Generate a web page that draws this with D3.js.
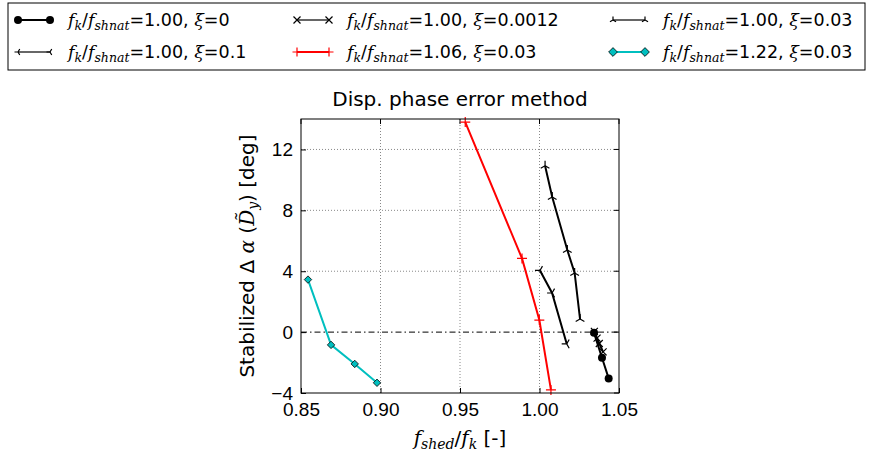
<!DOCTYPE html>
<html lang="en">
<head>
  <meta charset="UTF-8">
  <title>Disp. phase error method</title>
  <script src="https://cdn.jsdelivr.net/npm/d3@7"></script>
  <style>
    body { margin: 0; background: #fff; }
    svg { font-family: "DejaVu Sans", sans-serif; }
    .math { font-family: "DejaVu Serif", serif; font-style: italic; }
  </style>
</head>
<body>
<div id="chart"></div>
<script>
  const width = 869, height = 458;
  const margin = { left: 301, right: 250, top: 119, bottom: 65 };

  // data
  const xTicks = [0.85, 0.90, 0.95, 1.00, 1.05];
  const yTicks = [-4, 0, 4, 8, 12];
  const ratioLabels = ["1.00", "1.00", "1.00", "1.00", "1.06", "1.22"];
  const xiLabels = ["0", "0.0012", "0.03", "0.1", "0.03", "0.03"];
  const s_xi0 = [[1.0343, -0.05], [1.0393, -1.68], [1.0435, -3.04]];
  const s_xi0012 = [[1.0345, 0.05], [1.0362, -0.4], [1.0376, -0.75], [1.0400, -1.3]];
  const s_xi003 = [[1.0035, 10.93], [1.0080, 8.88], [1.0175, 5.39], [1.0221, 3.89], [1.0255, 0.86]];
  const s_xi01 = [[1.0003, 4.05], [1.0079, 2.57], [1.0171, -0.77]];
  const s_red = [[0.9533, 13.8], [0.9890, 4.84], [0.9999, 0.79], [1.0072, -3.8]];
  const s_cyan = [[0.8544, 3.45], [0.8689, -0.84], [0.8838, -2.09], [0.8978, -3.33]];

  const series = [
    { data: s_xi0, color: "#000", marker: "circle" },
    { data: s_xi0012, color: "#000", marker: "x" },
    { data: s_xi003, color: "#000", marker: "triup" },
    { data: s_xi01, color: "#000", marker: "trileft" },
    { data: s_red, color: "#ff0000", marker: "plus" },
    { data: s_cyan, color: "#00bfbf", marker: "diamond" }
  ];

  const svg = d3.select("#chart").append("svg")
    .attr("width", width).attr("height", height);

  const x = d3.scaleLinear().domain([0.85, 1.05]).range([margin.left, width - margin.right]);
  const y = d3.scaleLinear().domain([-4, 14]).range([height - margin.bottom, margin.top]);

  // grid
  const grid = svg.append("g");
  xTicks.slice(1, -1).forEach(t => {
    grid.append("line").attr("x1", x(t)).attr("x2", x(t))
      .attr("y1", y.range()[1]).attr("y2", y.range()[0])
      .attr("stroke", "#888").attr("stroke-dasharray", "1,2");
  });
  yTicks.slice(1).forEach(t => {
    if (t === 0) return;
    grid.append("line").attr("x1", x.range()[0]).attr("x2", x.range()[1])
      .attr("y1", y(t)).attr("y2", y(t))
      .attr("stroke", "#888").attr("stroke-dasharray", "1,2");
  });
  // zero line dash-dot
  svg.append("line").attr("x1", x.range()[0]).attr("x2", x.range()[1])
    .attr("y1", y(0)).attr("y2", y(0))
    .attr("stroke", "#000").attr("stroke-width", 1).attr("stroke-dasharray", "6,3,1.5,3");

  // axes (ticks inside)
  const xAxis = d3.axisBottom(x).tickValues(xTicks).tickFormat(d3.format(".2f")).tickSizeInner(-5).tickSizeOuter(0).tickPadding(10);
  const yAxis = d3.axisLeft(y).tickValues(yTicks).tickFormat(d => d < 0 ? "\u2212" + Math.abs(d) : d).tickSizeInner(-5).tickSizeOuter(0).tickPadding(8);
  svg.append("g").attr("transform", `translate(0,${y.range()[0]})`).call(xAxis)
    .call(g => g.select(".domain").remove())
    .selectAll("text").attr("font-size", 19).attr("fill", "#000");
  svg.append("g").attr("transform", `translate(${x.range()[0]},0)`).call(yAxis)
    .call(g => g.select(".domain").remove())
    .selectAll("text").attr("font-size", 19).attr("fill", "#000");
  // top/right ticks
  xTicks.forEach(t => svg.append("line").attr("x1", x(t)).attr("x2", x(t))
    .attr("y1", margin.top).attr("y2", margin.top + 5).attr("stroke", "#000"));
  yTicks.forEach(t => svg.append("line").attr("x1", x.range()[1]).attr("x2", x.range()[1] - 5)
    .attr("y1", y(t)).attr("y2", y(t)).attr("stroke", "#000"));

  function markerPath(type, s) {
    const h = s / 2;
    if (type === "x") return `M${-h},${-h}L${h},${h}M${-h},${h}L${h},${-h}`;
    if (type === "plus") return `M${-h},0L${h},0M0,${-h}L0,${h}`;
    if (type === "triup") return `M0,0L0,${-h}M0,0L${-h * 0.87},${h * 0.5}M0,0L${h * 0.87},${h * 0.5}`;
    if (type === "trileft") return `M0,0L${-h},0M0,0L${h * 0.5},${-h * 0.87}M0,0L${h * 0.5},${h * 0.87}`;
    return "";
  }

  function drawMarker(g, type, color, px, py, size) {
    if (type === "circle") {
      g.append("circle").attr("cx", px).attr("cy", py).attr("r", 4).attr("fill", "#000");
    } else if (type === "diamond") {
      g.append("path").attr("d", d3.symbol(d3.symbolDiamond2, size * 3.5)())
        .attr("transform", `translate(${px},${py})`)
        .attr("fill", color).attr("stroke", "#000").attr("stroke-width", 0.8);
    } else {
      g.append("path").attr("d", markerPath(type, size))
        .attr("transform", `translate(${px},${py})`)
        .attr("fill", "none").attr("stroke", color).attr("stroke-width", 1.2);
    }
  }

  const line = d3.line().x(d => x(d[0])).y(d => y(d[1]));
  const plot = svg.append("g");
  series.forEach(s => {
    plot.append("path").datum(s.data).attr("d", line)
      .attr("fill", "none").attr("stroke", s.color).attr("stroke-width", 2);
    s.data.forEach(d => drawMarker(plot, s.marker, s.color, x(d[0]), y(d[1]), s.marker === "x" ? 7 : 10));
  });

  // frame
  svg.append("rect").attr("x", x.range()[0]).attr("y", y.range()[1])
    .attr("width", x.range()[1] - x.range()[0]).attr("height", y.range()[0] - y.range()[1])
    .attr("fill", "none").attr("stroke", "#000").attr("stroke-width", 1);

  // title
  svg.append("text").attr("x", (x.range()[0] + x.range()[1]) / 2).attr("y", 106)
    .attr("text-anchor", "middle").attr("font-size", 20).text("Disp. phase error method");

  // x label
  const xl = svg.append("text").attr("x", (x.range()[0] + x.range()[1]) / 2).attr("y", 445)
    .attr("text-anchor", "middle").attr("font-size", 20);
  xl.append("tspan").attr("class", "math").text("f");
  xl.append("tspan").attr("class", "math").attr("font-size", 14).attr("dy", 4).text("shed");
  xl.append("tspan").attr("dy", -4).text("/");
  xl.append("tspan").attr("class", "math").text("f");
  xl.append("tspan").attr("class", "math").attr("font-size", 14).attr("dy", 4).text("k");
  xl.append("tspan").attr("dy", -4).text(" [-]");

  // y label
  const yl = svg.append("text").attr("transform", `translate(254,${(y.range()[0] + y.range()[1]) / 2}) rotate(-90)`)
    .attr("text-anchor", "middle").attr("font-size", 20);
  yl.append("tspan").text("Stabilized \u0394 ");
  yl.append("tspan").attr("class", "math").text("\u03b1");
  yl.append("tspan").text(" (");
  yl.append("tspan").attr("class", "math").text("D\u0303");
  yl.append("tspan").attr("class", "math").attr("font-size", 14).attr("dy", 4).text("y");
  yl.append("tspan").attr("dy", -4).text(") [deg]");

  // legend
  const lg = svg.append("g");
  lg.append("rect").attr("x", 8).attr("y", 3).attr("width", 857).attr("height", 67)
    .attr("fill", "#fff").attr("stroke", "#000").attr("stroke-width", 1);
  const colX = [18, 297, 613];
  const rowY = [20, 52];
  series.forEach((s, i) => {
    const cx = colX[i % 3], cy = rowY[Math.floor(i / 3)];
    lg.append("line").attr("x1", cx).attr("x2", cx + 32).attr("y1", cy).attr("y2", cy)
      .attr("stroke", s.color).attr("stroke-width", s.marker === "diamond" || s.marker === "plus" || s.marker === "circle" ? 2 : 1.2);
    const m = s.marker;
    const ms = m === "x" ? 7 : (m === "plus" ? 9 : (m === "diamond" ? 14 : 7));
    drawMarker(lg, m, s.color, cx, cy, ms);
    drawMarker(lg, m, s.color, cx + 32, cy, ms);
    const t = lg.append("text").attr("x", cx + 50).attr("y", cy + 6).attr("font-size", 17.5);
    t.append("tspan").attr("class", "math").text("f");
    t.append("tspan").attr("class", "math").attr("font-size", 12.5).attr("dy", 4).text("k");
    t.append("tspan").attr("dy", -4).text("/");
    t.append("tspan").attr("class", "math").text("f");
    t.append("tspan").attr("class", "math").attr("font-size", 12.5).attr("dy", 4).text("shnat");
    t.append("tspan").attr("dy", -4).text("=" + ratioLabels[i] + ", ");
    t.append("tspan").attr("class", "math").text("\u03be");
    t.append("tspan").text("=" + xiLabels[i]);
  });
</script>
</body>
</html>
